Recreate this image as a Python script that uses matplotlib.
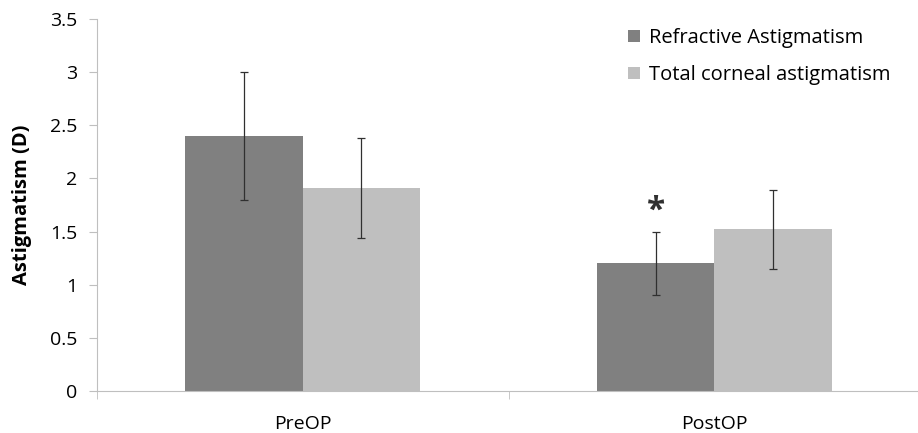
import numpy as np
import matplotlib.pyplot as plt

plt.rcParams['font.family'] = ['Open Sans', 'DejaVu Sans']

grupos = ["PreOP", "PostOP"]
series = ["Refractive Astigmatism", "Total corneal astigmatism"]
refractivo = [2.40, 1.20]
refractivo_err = [0.60, 0.30]
corneal = [1.91, 1.52]
corneal_err = [0.475, 0.375]
colores = ["#808080", "#bfbfbf"]
gris_eje = "#bfbfbf"

fig = plt.figure(figsize=(9.18, 4.33), dpi=100)
ax = fig.add_axes([97 / 918, 1 - 391 / 433, 823 / 918, 372 / 433])

x = np.arange(len(grupos))
w = 0.285
err_kw = dict(ecolor="#303030", elinewidth=0.9, capsize=3, capthick=0.9)
ax.bar(x - w / 2, refractivo, w, yerr=refractivo_err, color=colores[0],
       label=series[0], error_kw=err_kw)
ax.bar(x + w / 2, corneal, w, yerr=corneal_err, color=colores[1],
       label=series[1], error_kw=err_kw)

# asterisco de significancia sobre PostOP refractivo
ax.text(x[1] - w / 2, refractivo[1] + refractivo_err[1] + 0.19, "*",
        ha="center", va="center", fontsize=24, fontweight="bold", color="#303030")

ax.set_xlim(-0.5, 1.5)
ax.set_ylim(0, 3.5)
ax.set_yticks(np.arange(0, 3.51, 0.5))
ax.set_yticklabels(["0", "0.5", "1", "1.5", "2", "2.5", "3", "3.5"])
ax.set_xticks(x)
ax.set_xticklabels(grupos)
ax.set_xticks([-0.5, 0.5, 1.5], minor=True)
ax.tick_params(axis="x", which="major", length=0, pad=17, labelsize=14)
ax.tick_params(axis="x", which="minor", length=6, color=gris_eje, direction="out")
ax.tick_params(axis="y", length=6, color=gris_eje, direction="out", labelsize=14, pad=8)
ax.set_ylabel("Astigmatism (D)", fontsize=14.5, fontweight="bold", labelpad=13)

for s in ["top", "right"]:
    ax.spines[s].set_visible(False)
for s in ["left", "bottom"]:
    ax.spines[s].set_color(gris_eje)

fig.legend(loc="upper left", bbox_to_anchor=(628 / 918, 1 - 28 / 433), frameon=False,
           fontsize=14.5, handlelength=0.6, handleheight=0.6, handletextpad=0.45,
           labelspacing=0.85, borderpad=0, borderaxespad=0)

fig.savefig("out.png", dpi=100)
